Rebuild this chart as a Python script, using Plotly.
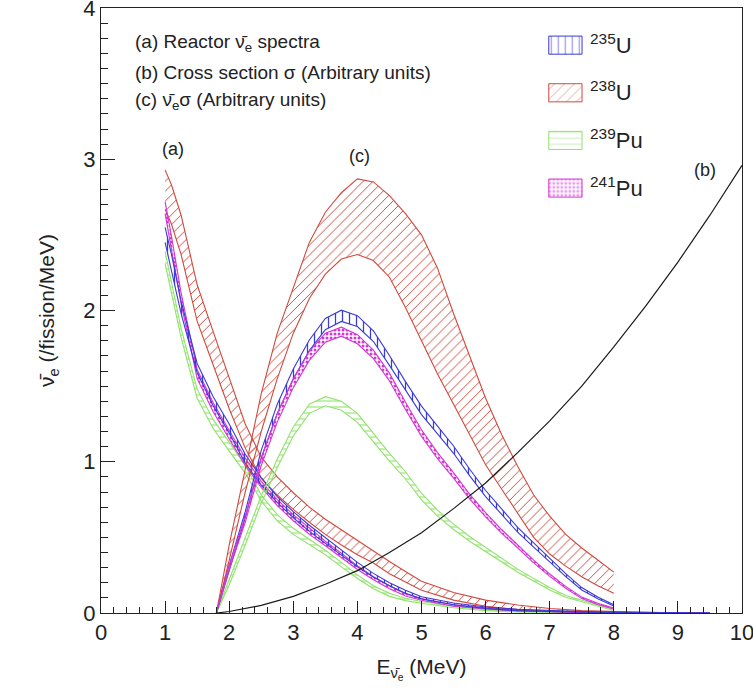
import plotly.graph_objects as go

# ---------------------------------------------------------------- data
# (a) reactor antineutrino spectra, /fission/MeV  (central value, half band)
E_A = [1.0, 1.1, 1.25, 1.5, 1.75, 2.0, 2.25, 2.5, 2.75, 3.0, 3.25, 3.5, 3.75,
       4.0, 4.25, 4.5, 4.75, 5.0, 5.5, 6.0, 6.5, 7.0, 7.5, 8.0, 8.5, 9.0, 9.5]
U235_A = [2.50, 2.32, 2.02, 1.62, 1.40, 1.22, 1.02, 0.87, 0.75, 0.65, 0.56, 0.48, 0.40,
          0.32, 0.25, 0.19, 0.14, 0.10, 0.06, 0.035, 0.02, 0.012, 0.007, 0.004, 0.002, 0.001, 0.0]
U235_A_ERR = [0.05, 0.05, 0.04, 0.03, 0.03, 0.03, 0.03, 0.025, 0.02, 0.02, 0.02, 0.02, 0.015,
              0.015, 0.012, 0.01, 0.01, 0.008, 0.006, 0.005, 0.004, 0.003, 0.002, 0.002, 0.001, 0.001, 0.0]
U238_A = [2.80, 2.70, 2.50, 2.05, 1.75, 1.45, 1.17, 0.96, 0.84, 0.74, 0.65, 0.57, 0.50,
          0.43, 0.37, 0.30, 0.24, 0.18, 0.11, 0.065, 0.038, 0.02, 0.01, 0.005, 0.002, 0.001, 0.0]
U238_A_ERR = [0.13, 0.13, 0.13, 0.12, 0.11, 0.10, 0.08, 0.07, 0.06, 0.055, 0.05, 0.05, 0.05,
              0.045, 0.04, 0.04, 0.035, 0.03, 0.025, 0.02, 0.015, 0.01, 0.006, 0.003, 0.002, 0.001, 0.0]
PU239_A = [2.35, 2.15, 1.85, 1.45, 1.25, 1.10, 0.95, 0.76, 0.63, 0.54, 0.47, 0.40, 0.32,
           0.24, 0.17, 0.12, 0.09, 0.07, 0.04, 0.02, 0.01, 0.005, 0.003, 0.001, 0.0, 0.0, 0.0]
PU239_A_ERR = [0.04, 0.04, 0.03, 0.03, 0.03, 0.03, 0.025, 0.02, 0.02, 0.02, 0.02, 0.015, 0.015,
               0.012, 0.01, 0.01, 0.008, 0.006, 0.005, 0.004, 0.003, 0.002, 0.001, 0.001, 0.0, 0.0, 0.0]
PU241_A = [2.68, 2.45, 2.08, 1.58, 1.36, 1.18, 1.00, 0.85, 0.73, 0.63, 0.54, 0.46, 0.38,
           0.30, 0.23, 0.17, 0.12, 0.09, 0.05, 0.03, 0.016, 0.009, 0.005, 0.002, 0.001, 0.0, 0.0]
PU241_A_ERR = [0.04, 0.04, 0.035, 0.03, 0.03, 0.03, 0.025, 0.02, 0.02, 0.02, 0.02, 0.015, 0.015,
               0.012, 0.01, 0.01, 0.008, 0.006, 0.005, 0.004, 0.003, 0.002, 0.001, 0.001, 0.0, 0.0, 0.0]

# (c) spectrum x cross section, arbitrary units
E_C = [1.8, 1.9, 2.0, 2.25, 2.5, 2.75, 3.0, 3.25, 3.5, 3.75, 4.0, 4.25, 4.5, 4.75,
       5.0, 5.25, 5.5, 5.75, 6.0, 6.25, 6.5, 6.75, 7.0, 7.25, 7.5, 7.75, 8.0]
U235_C = [0.0, 0.15, 0.30, 0.65, 1.05, 1.35, 1.58, 1.77, 1.91, 1.965, 1.93, 1.83, 1.67, 1.50,
          1.34, 1.21, 1.08, 0.93, 0.79, 0.67, 0.55, 0.45, 0.35, 0.25, 0.16, 0.10, 0.05]
U235_C_ERR = [0.0, 0.01, 0.015, 0.02, 0.025, 0.03, 0.033, 0.035, 0.037, 0.037, 0.036, 0.035, 0.033, 0.03,
              0.028, 0.026, 0.024, 0.022, 0.02, 0.018, 0.016, 0.014, 0.012, 0.01, 0.008, 0.006, 0.004]
U238_C_LO = [0.0, 0.17, 0.35, 0.80, 1.20, 1.55, 1.85, 2.08, 2.24, 2.34, 2.37, 2.33, 2.22, 2.02,
             1.80, 1.58, 1.38, 1.18, 0.98, 0.82, 0.66, 0.50, 0.39, 0.31, 0.24, 0.18, 0.13]
U238_C_HI = [0.0, 0.22, 0.45, 0.95, 1.45, 1.85, 2.15, 2.45, 2.65, 2.78, 2.87, 2.85, 2.76, 2.64,
             2.50, 2.28, 1.98, 1.70, 1.42, 1.18, 0.97, 0.78, 0.64, 0.52, 0.43, 0.35, 0.27]
PU239_C = [0.0, 0.10, 0.20, 0.47, 0.75, 0.99, 1.20, 1.35, 1.40, 1.37, 1.29, 1.16, 1.03, 0.91,
           0.77, 0.66, 0.57, 0.49, 0.42, 0.35, 0.28, 0.22, 0.16, 0.11, 0.08, 0.05, 0.02]
PU239_C_ERR = [0.0, 0.01, 0.015, 0.02, 0.025, 0.028, 0.03, 0.03, 0.03, 0.03, 0.03, 0.028, 0.026, 0.024,
               0.022, 0.02, 0.018, 0.016, 0.014, 0.012, 0.01, 0.009, 0.008, 0.006, 0.005, 0.004, 0.003]
PU241_C = [0.0, 0.15, 0.30, 0.62, 1.00, 1.29, 1.52, 1.70, 1.82, 1.86, 1.81, 1.71, 1.56, 1.37,
           1.19, 1.04, 0.91, 0.77, 0.65, 0.54, 0.44, 0.34, 0.25, 0.17, 0.10, 0.06, 0.03]
PU241_C_ERR = [0.0, 0.01, 0.015, 0.02, 0.025, 0.028, 0.03, 0.03, 0.03, 0.03, 0.03, 0.028, 0.026, 0.024,
               0.022, 0.02, 0.018, 0.016, 0.014, 0.012, 0.01, 0.009, 0.008, 0.006, 0.005, 0.004, 0.003]

# (b) inverse beta decay cross section, arbitrary units
E_B = [1.8, 2.0, 2.5, 3.0, 3.5, 4.0, 4.5, 5.0, 5.5, 6.0, 6.5, 7.0, 7.5, 8.0, 8.5, 9.0, 9.5, 10.0]
SIGMA = [0.0, 0.01, 0.05, 0.11, 0.19, 0.28, 0.40, 0.53, 0.69, 0.86, 1.06, 1.27, 1.50, 1.76,
         2.03, 2.32, 2.63, 2.96]

ISOTOPES = ["<sup>235</sup>U", "<sup>238</sup>U", "<sup>239</sup>Pu", "<sup>241</sup>Pu"]
X_TICKS = list(range(0, 11))
Y_TICKS = [0, 1, 2, 3, 4]

# ---------------------------------------------------------------- styles
FONT = "Liberation Sans, Arial, Helvetica, sans-serif"
BLUE, RED, GREEN, MAGENTA = "#3a3ad6", "#d0493e", "#8fe36a", "#d238d2"
STYLE = {
    "235U": dict(color=BLUE, shape="|", size=7, solidity=0.18),
    "238U": dict(color=RED, shape="/", size=7, solidity=0.14),
    "239Pu": dict(color=GREEN, shape="-", size=6, solidity=0.18),
    "241Pu": dict(color=MAGENTA, shape=".", size=4, solidity=0.45),
}

fig = go.Figure()


def add_band(x, lo, hi, key):
    st = STYLE[key]
    line = dict(color=st["color"], width=1.1)
    fig.add_trace(go.Scatter(x=x, y=lo, mode="lines", line=line,
                             showlegend=False, hoverinfo="skip"))
    fig.add_trace(go.Scatter(
        x=x, y=hi, mode="lines", line=line, fill="tonexty",
        fillcolor="rgba(0,0,0,0)",
        fillpattern=dict(shape=st["shape"], fgcolor=st["color"],
                         bgcolor="rgba(255,255,255,0)", size=st["size"],
                         solidity=st["solidity"], fillmode="replace"),
        showlegend=False, hoverinfo="skip"))


def lohi(c, e):
    return [v - d for v, d in zip(c, e)], [v + d for v, d in zip(c, e)]


# (a) spectra
for key, c, e in [("239Pu", PU239_A, PU239_A_ERR), ("238U", U238_A, U238_A_ERR),
                  ("241Pu", PU241_A, PU241_A_ERR), ("235U", U235_A, U235_A_ERR)]:
    lo, hi = lohi(c, e)
    add_band(E_A, lo, hi, key)

# (c) spectrum x cross section
add_band(E_C, U238_C_LO, U238_C_HI, "238U")
for key, c, e in [("239Pu", PU239_C, PU239_C_ERR), ("235U", U235_C, U235_C_ERR),
                  ("241Pu", PU241_C, PU241_C_ERR)]:
    lo, hi = lohi(c, e)
    add_band(E_C, lo, hi, key)

# (b) cross section
fig.add_trace(go.Scatter(x=E_B, y=SIGMA, mode="lines",
                         line=dict(color="#1a1a1a", width=1.2),
                         showlegend=False, hoverinfo="skip"))

# key: one hatched swatch per isotope, labelled on its own category axis
keys = ["235U", "238U", "239Pu", "241Pu"]
fig.add_trace(go.Bar(
    x=[1, 1, 1, 1], y=ISOTOPES, orientation="h", xaxis="x3", yaxis="y3",
    width=0.38, showlegend=False, hoverinfo="skip",
    marker=dict(
        color="white",
        line=dict(color=[STYLE[k]["color"] for k in keys], width=1),
        pattern=dict(shape=[STYLE[k]["shape"] for k in keys],
                     fgcolor=[STYLE[k]["color"] for k in keys],
                     bgcolor="white",
                     size=[STYLE[k]["size"] for k in keys],
                     solidity=[STYLE[k]["solidity"] for k in keys]),
    ),
))

# ---------------------------------------------------------------- layout
axis_common = dict(showgrid=False, zeroline=False, showline=True, linecolor="#222",
                   linewidth=1, mirror=True, ticks="inside", tickcolor="#222",
                   ticklabeloverflow="allow", automargin=False,
                   tickfont=dict(family=FONT, size=22, color="#222"))

fig.update_layout(
    width=753, height=694,
    margin=dict(l=101, r=11, t=8, b=81),
    paper_bgcolor="white", plot_bgcolor="white",
    font=dict(family=FONT, color="#222"),
    showlegend=False,
    xaxis=dict(axis_common, range=[0, 10], tickvals=X_TICKS, ticklen=12, tickwidth=1,
               minor=dict(dtick=0.2, ticklen=6, tickcolor="#222", ticks="inside"),
               title=dict(text="E<sub>ν\u0304<sub>e</sub></sub> (MeV)",
                          font=dict(family=FONT, size=21, color="#222"), standoff=14)),
    yaxis=dict(axis_common, range=[0, 4], tickvals=Y_TICKS, ticklen=14, tickwidth=1,
               minor=dict(dtick=0.1, ticklen=7, tickcolor="#222", ticks="inside"),
               title=dict(text="ν\u0304<sub>e</sub> (/fission/MeV)",
                          font=dict(family=FONT, size=21, color="#222"), standoff=22)),
    # half-unit ticks on the energy-density axis
    yaxis2=dict(overlaying="y", anchor="x", range=[0, 4], tickvals=[0.5, 1.5, 2.5, 3.5],
                ticks="inside", ticklen=10, tickcolor="#222", showticklabels=False,
                showgrid=False, zeroline=False, showline=False, automargin=False),
    xaxis3=dict(domain=[0.697, 0.752], anchor="y3", range=[-0.03, 1.03], visible=False),
    yaxis3=dict(domain=[0.663, 0.978], anchor="x3", type="category", autorange="reversed",
                side="right", showgrid=False, zeroline=False, showline=False, ticks="",
                ticklabelstandoff=6, automargin=False,
                tickfont=dict(family=FONT, size=22, color="#222")),
)

ann_font = dict(family=FONT, size=19, color="#222")
for text, yp in [("(a) Reactor ν\u0304<sub>e</sub> spectra", 0.942),
                 ("(b) Cross section σ (Arbitrary units)", 0.893),
                 ("(c) ν\u0304<sub>e</sub>σ (Arbitrary units)", 0.846)]:
    fig.add_annotation(text=text, xref="paper", yref="paper", x=0.05, y=yp,
                       xanchor="left", yanchor="middle", showarrow=False, font=ann_font)

for text, xv, yv in [("(a)", 1.12, 3.07), ("(c)", 4.04, 3.02), ("(b)", 9.42, 2.93)]:
    fig.add_annotation(text=text, x=xv, y=yv, xref="x", yref="y", showarrow=False,
                       font=dict(family=FONT, size=18, color="#222"))

fig.write_html("out.html")
